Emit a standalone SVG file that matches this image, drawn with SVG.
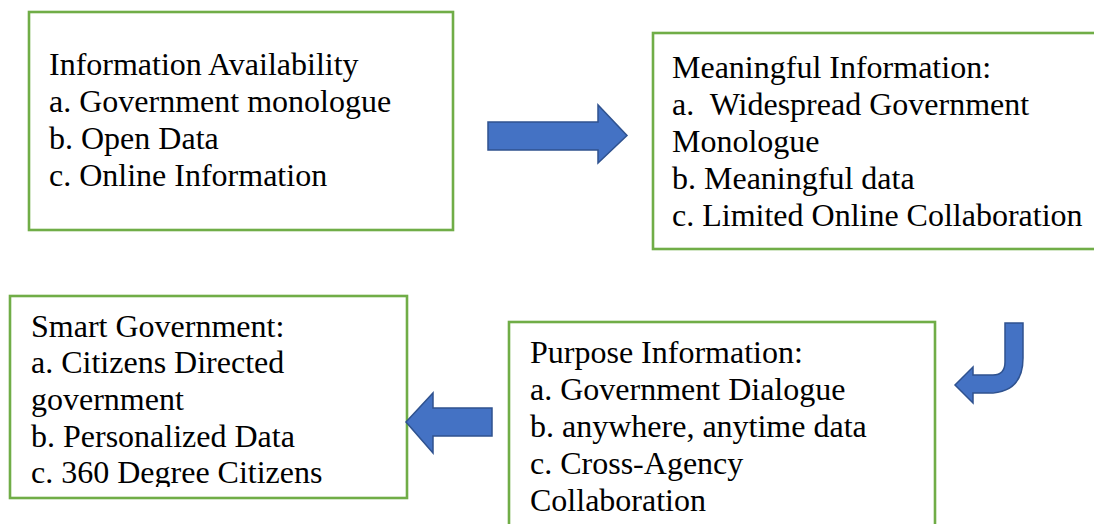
<svg xmlns="http://www.w3.org/2000/svg" width="1094" height="524" viewBox="0 0 1094 524">
  <style>
    .box { fill: #ffffff; stroke: #70AD47; stroke-width: 2.6; }
    .label { font-family: "Liberation Serif", "Times New Roman", serif; font-size: 32px; fill: #000000; white-space: pre; }
    .arrow { fill: #4472C4; stroke: #2F528F; stroke-width: 1.5; stroke-linejoin: miter; }
  </style>
  <defs>
    <clipPath id="smartClip">
      <rect x="10" y="296" width="397" height="191"/>
    </clipPath>
  </defs>
  <rect x="0" y="0" width="1094" height="524" fill="#ffffff"/>

  <!-- Stage 1 -->
  <g id="node-information-availability">
    <rect class="box" x="29" y="12" width="424" height="218"/>
    <text class="label">
      <tspan x="49" y="75">Information Availability</tspan>
      <tspan x="49" y="112">a. Government monologue</tspan>
      <tspan x="49" y="149">b. Open Data</tspan>
      <tspan x="49" y="186">c. Online Information</tspan>
    </text>
  </g>

  <!-- Stage 2 -->
  <g id="node-meaningful-information">
    <rect class="box" x="653" y="33" width="460" height="216"/>
    <text class="label">
      <tspan x="672" y="78">Meaningful Information:</tspan>
      <tspan x="672" y="115">a.  Widespread Government</tspan>
      <tspan x="672" y="152">Monologue</tspan>
      <tspan x="672" y="189">b. Meaningful data</tspan>
      <tspan x="672" y="226">c. Limited Online Collaboration</tspan>
    </text>
  </g>

  <!-- Stage 3 -->
  <g id="node-purpose-information">
    <rect class="box" x="509" y="322" width="426" height="230"/>
    <text class="label">
      <tspan x="530" y="363">Purpose Information:</tspan>
      <tspan x="530" y="400">a. Government Dialogue</tspan>
      <tspan x="530" y="437">b. anywhere, anytime data</tspan>
      <tspan x="530" y="474">c. Cross-Agency</tspan>
      <tspan x="530" y="511">Collaboration</tspan>
    </text>
  </g>

  <!-- Stage 4 -->
  <g id="node-smart-government">
    <rect class="box" x="10" y="296" width="397" height="202"/>
    <text class="label" clip-path="url(#smartClip)">
      <tspan x="31" y="337">Smart Government:</tspan>
      <tspan x="31" y="373">a. Citizens Directed</tspan>
      <tspan x="31" y="410">government</tspan>
      <tspan x="31" y="447">b. Personalized Data</tspan>
      <tspan x="31" y="483">c. 360 Degree Citizens</tspan>
    </text>
  </g>

  <!-- Block arrows between stages -->
  <g id="connectors">
    <path id="arrow-1-2" class="arrow" d="M488,122 L598,122 L598,105 L627,135.5 L598,163 L598,150 L488,150 Z"/>
    <path id="arrow-2-3" class="arrow" d="M1005,323 L1023,323 L1023,358 Q1023,393 988,393 L973,393 L973,403 L955,385 L973,367 L973,375 L993,375 Q1005,375 1005,362 Z"/>
    <path id="arrow-3-4" class="arrow" d="M492,408 L433,408 L433,393 L406,422 L433,453 L433,436 L492,436 Z"/>
  </g>
</svg>
